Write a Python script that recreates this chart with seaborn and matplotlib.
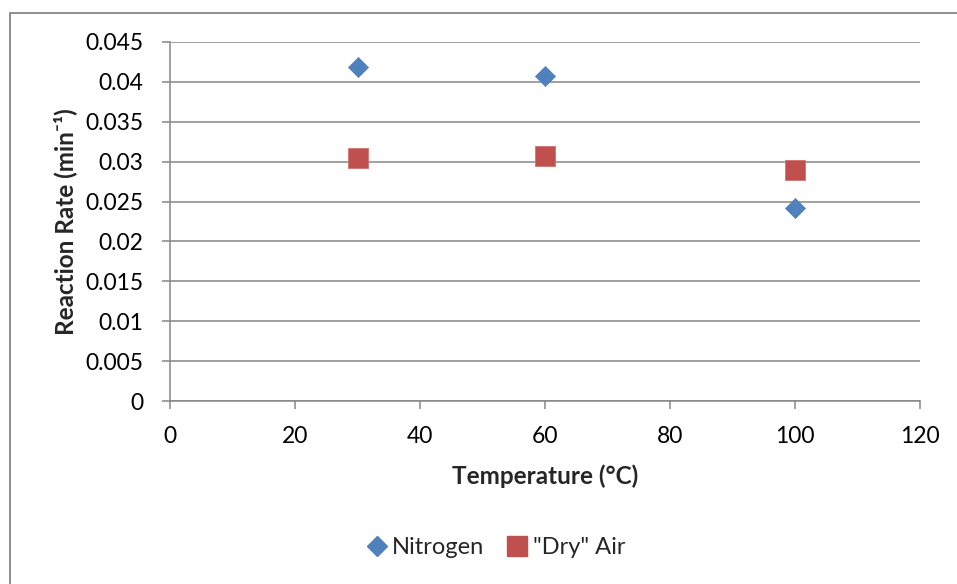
import matplotlib
matplotlib.use("Agg")
import matplotlib.pyplot as plt
from matplotlib.patches import Rectangle
from matplotlib.lines import Line2D
import seaborn as sns
import pandas as pd

# Measured reaction rates at each temperature
temperatures = [30, 60, 100]
nitrogen_rates = [0.0419, 0.0407, 0.0242]
dry_air_rates = [0.0305, 0.0307, 0.0289]
series_names = ["Nitrogen", '"Dry" Air']
x_ticks = [0, 20, 40, 60, 80, 100, 120]
y_ticks = [0, 0.005, 0.01, 0.015, 0.02, 0.025, 0.03, 0.035, 0.04, 0.045]
y_tick_labels = ["0", "0.005", "0.01", "0.015", "0.02", "0.025", "0.03", "0.035", "0.04", "0.045"]

df = pd.DataFrame({
    "Temperature": temperatures * 2,
    "Rate": nitrogen_rates + dry_air_rates,
    "Gas": [series_names[0]] * 3 + [series_names[1]] * 3,
})

sns.set_theme(style="white")
plt.rcParams["font.family"] = ["Lato", "DejaVu Sans"]

W, H = 957, 584
fig = plt.figure(figsize=(W / 100, H / 100), dpi=100)
ax = fig.add_axes([170 / W, 1 - 401 / H, (920 - 170) / W, (401 - 42) / H])

blue = "#4F81BD"
red = "#C0504D"
grid_c = "#868686"
fs_tick = 16.5
fs_label = 17.5

sns.scatterplot(data=df[df["Gas"] == series_names[0]], x="Temperature", y="Rate",
                marker="D", s=105, color=blue, edgecolor=blue, linewidth=0.5,
                ax=ax, legend=False, zorder=3)
sns.scatterplot(data=df[df["Gas"] == series_names[1]], x="Temperature", y="Rate",
                marker="s", s=200, color=red, edgecolor="#D07370", linewidth=0.6,
                ax=ax, legend=False, zorder=3)

ax.set_xlim(0, 120)
ax.set_ylim(0, 0.045)
ax.set_xticks(x_ticks)
ax.set_xticklabels([str(t) for t in x_ticks])
ax.set_yticks(y_ticks)
ax.set_yticklabels(y_tick_labels)

ax.grid(axis="y", color=grid_c, linewidth=1.1)
ax.set_axisbelow(True)
for side in ["top", "right"]:
    ax.spines[side].set_visible(False)
for side in ["left", "bottom"]:
    ax.spines[side].set_color(grid_c)
    ax.spines[side].set_linewidth(1.1)

ax.tick_params(axis="both", which="major", direction="out", length=5.8,
               width=1.1, color=grid_c, labelsize=fs_tick, labelcolor="black")
ax.tick_params(axis="x", pad=12.5, bottom=True)
ax.tick_params(axis="y", pad=13.5, left=True)

ax.set_xlabel("Temperature (°C)", fontsize=fs_label, fontweight="bold", labelpad=12.5)
ax.set_ylabel("Reaction Rate (min⁻¹)", fontsize=fs_label, fontweight="bold", labelpad=6,
              family=["Lato", "DejaVu Sans"])

handles = [
    Line2D([], [], marker="D", linestyle="none", markersize=10, color=blue),
    Line2D([], [], marker="s", linestyle="none", markersize=14, color=red),
]
fig.legend(handles, series_names, loc="center", bbox_to_anchor=(495 / W, 1 - 548 / H),
           ncol=2, frameon=False, fontsize=fs_tick + 0.5, handletextpad=0.15, columnspacing=0.9,
           handlelength=1.0)

fig.patches.append(Rectangle((10 / W, -0.1), 1.2, 1 - 13 / H + 0.1, transform=fig.transFigure,
                             fill=False, edgecolor="#868686", linewidth=1.3))

fig.savefig("out.png", dpi=100)
